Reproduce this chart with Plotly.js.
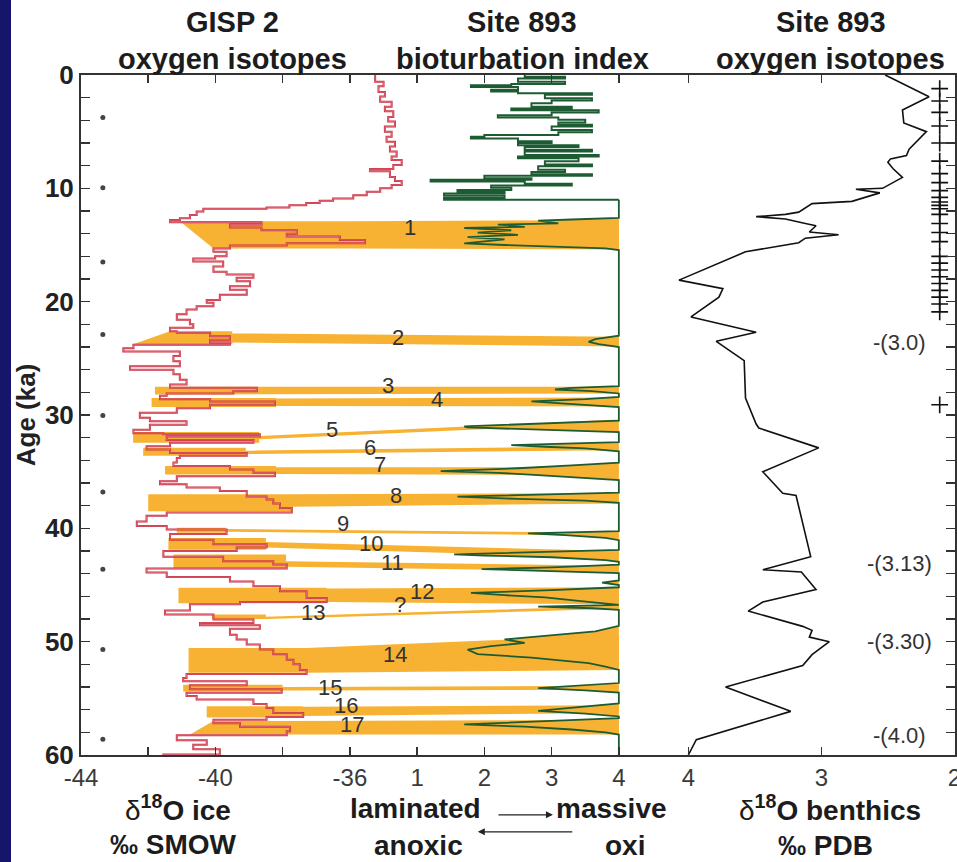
<!DOCTYPE html>
<html>
<head>
<meta charset="utf-8">
<script src="https://cdn.plot.ly/plotly-3.0.1.min.js"></script>
<style>
  html, body { margin: 0; padding: 0; background: #fff; }
  #wrap { width: 957px; height: 862px; display: flex; overflow: hidden; }
  #edge { width: 11px; height: 862px; background: #17156b; flex: none; }
  #chart { width: 946px; height: 862px; flex: none; }
</style>
</head>
<body>
<div id="wrap"><div id="edge"></div><div id="chart"></div></div>
<script>
// ---- GISP 2 ice-core oxygen isotopes (per mil SMOW) vs age (ka) ----
const gispAge = [0.0, 0.6, 1.0, 1.5, 1.9, 2.35, 2.8, 3.2, 3.7, 4.1, 4.55, 5.0, 5.45, 5.9, 6.3, 6.75, 7.2, 7.5, 7.95, 8.3,
  8.5, 9.0, 9.35, 9.7, 10.0, 10.3, 10.6, 10.9, 11.1, 11.3, 11.5, 11.7, 11.8, 12.05, 12.35, 12.65, 12.8, 13.0, 13.2, 13.45,
  13.7, 14.0, 14.25, 14.55, 14.85, 15.05, 15.3, 15.6, 16.0, 16.2, 16.45, 16.9, 17.35, 17.6, 17.9, 18.2, 18.65, 18.95, 19.4, 19.85,
  20.1, 20.4, 20.7, 21.1, 21.6, 22.0, 22.3, 22.6, 22.75, 23.05, 23.35, 23.6, 23.8, 24.1, 24.4, 24.8, 25.25, 25.7, 26.0, 26.4,
  26.9, 27.3, 27.6, 27.9, 28.1, 28.3, 28.6, 28.8, 29.1, 29.4, 29.8, 30.25, 30.55, 30.85, 31.3, 31.6, 31.7, 31.9, 32.2, 32.45,
  32.75, 33.05, 33.35, 33.6, 33.8, 34.2, 34.5, 34.8, 35.1, 35.4, 35.85, 36.1, 36.4, 36.7, 37.2, 37.45, 37.8, 38.2, 38.6, 38.9,
  39.4, 39.8, 40.1, 40.5, 41.0, 41.4, 41.7, 42.0, 42.5, 42.9, 43.2, 43.55, 43.9, 44.3, 44.7, 45.1, 45.55, 46.15, 46.5, 46.7,
  47.25, 47.6, 48.05, 48.35, 48.55, 48.85, 49.4, 49.8, 50.25, 50.7, 51.1, 51.6, 52.0, 52.5, 52.85, 53.2, 53.5, 53.85, 54.2, 54.5,
  54.8, 55.1, 55.5, 55.85, 56.3, 56.65, 56.9, 57.2, 57.5, 57.9, 58.25, 58.7, 59.1, 59.5, 59.95, 60.0];
const gispD18O = [-35.25, -35.0, -35.15, -34.96, -35.1, -34.76, -34.96, -34.71, -34.86, -34.66, -34.96, -34.76, -34.91, -34.66, -34.81, -34.61, -34.76, -34.46, -34.71, -35.4,
  -34.81, -34.66, -34.46, -34.76, -35.1, -35.5, -35.9, -36.5, -36.9, -37.3, -37.8, -38.48, -40.36, -40.56, -40.76, -41.06, -41.35, -38.63, -39.57, -38.63,
  -37.58, -37.88, -36.3, -35.55, -37.88, -39.57, -40.06, -39.67, -40.01, -40.66, -39.77, -40.06, -39.67, -38.87, -39.37, -38.97, -39.57, -39.07, -39.87, -40.26,
  -40.06, -40.56, -40.86, -41.15, -40.76, -40.66, -41.35, -41.15, -40.16, -39.57, -40.16, -39.57, -42.44, -42.74, -41.06, -41.25, -41.06, -42.54, -41.25, -41.06,
  -40.86, -41.35, -38.77, -39.47, -41.45, -41.65, -40.16, -38.23, -40.16, -41.15, -42.25, -41.95, -40.86, -41.95, -42.44, -41.55, -38.68, -41.45, -38.87, -41.35,
  -42.05, -41.35, -39.07, -41.06, -41.15, -41.25, -39.57, -38.87, -38.23, -41.15, -41.65, -40.86, -39.87, -39.07, -38.48, -38.28, -38.08, -37.73, -41.45, -42.05,
  -42.34, -41.45, -39.67, -41.35, -40.06, -38.48, -39.37, -41.55, -39.77, -38.28, -37.88, -42.05, -41.45, -39.57, -38.87, -38.08, -37.29, -36.69, -39.27, -40.76,
  -41.5, -40.06, -38.87, -40.46, -38.68, -39.57, -39.37, -39.07, -38.68, -38.28, -37.88, -37.68, -37.49, -37.29, -40.86, -40.96, -39.07, -40.76, -38.03, -40.86,
  -40.56, -38.87, -38.48, -38.28, -37.39, -38.48, -40.06, -39.27, -37.78, -37.88, -41.15, -40.26, -40.66, -39.87, -41.55, -41.55];

// Age-control dots beside the ice-core record
const controlAges = [3.75, 9.95, 16.5, 22.9, 30.05, 36.8, 43.6, 50.7, 58.6];
const controlD18O = -43.35;

// ---- Site 893 bioturbation index (1 = laminated/anoxic, 4 = massive/oxic) ----
// Holocene section, plotted as steps
const bioTopAge = [0.0, 0.15, 0.3, 0.6, 0.8, 0.9, 1.05, 1.3, 1.45, 1.6, 1.75, 2.05, 2.25, 2.5, 2.8, 2.95, 3.1, 3.3, 3.55, 3.75,
  3.95, 4.2, 4.4, 4.55, 4.85, 5.05, 5.3, 5.45, 5.6, 5.85, 6.0, 6.2, 6.35, 6.6, 6.75, 7.05, 7.2, 7.35, 7.6, 7.9,
  8.05, 8.35, 8.55, 8.75, 8.9, 9.1, 9.25, 9.4, 9.6, 9.75, 9.95, 10.15, 10.3, 10.45, 10.65, 10.85, 11.0];
const bioTopIndex = [2.6, 3.2, 2.5, 3.2, 2.4, 1.8, 2.5, 2.1, 2.5, 3.6, 2.9, 3.6, 3.0, 2.7, 3.3, 2.4, 3.7, 3.0, 2.2, 3.1,
  3.5, 3.1, 3.6, 3.0, 3.6, 3.1, 2.0, 1.8, 2.5, 3.0, 2.5, 3.4, 2.6, 3.6, 2.6, 3.7, 2.5, 3.4, 2.9, 3.6,
  2.8, 3.2, 2.7, 3.6, 2.0, 2.7, 1.2, 2.6, 3.3, 2.1, 2.4, 1.6, 2.3, 1.4, 2.3, 1.4, 4.0];
// Glacial section: massive (4) with laminated excursions
const bioAge = [11.0, 12.6, 12.75, 12.85, 13.1, 13.2, 13.4, 13.5, 13.7, 13.9, 14.1, 14.3, 14.5, 14.7, 14.85, 15.0, 15.15, 15.3, 15.45,
  23.0, 23.3, 23.55, 23.75, 24.0,
  27.45, 27.6, 27.75, 27.9, 28.1,
  28.4, 28.6, 28.8, 29.0, 29.3,
  30.5, 31.0, 31.1, 31.4, 31.5,
  32.4, 32.65, 32.8, 32.95, 33.2,
  34.2, 34.45, 34.7, 34.95, 35.1, 35.3, 35.55, 35.75,
  36.85, 37.05, 37.2, 37.4, 37.55, 37.75,
  40.25, 40.45, 40.6, 40.85, 41.05,
  41.9, 42.15, 42.3, 42.4, 42.55, 42.8, 42.95,
  43.2, 43.45, 43.6, 43.75, 43.95,
  44.6, 44.8, 45.0, 45.2, 45.45, 45.7, 45.9, 46.1, 46.4, 46.7,
  46.75, 46.9, 47.05, 47.2,
  48.6, 49.1, 49.5, 49.8, 50.1, 50.4, 50.7, 51.1, 51.4, 51.9, 52.2, 52.5,
  53.65, 53.9, 54.1, 54.3, 54.5,
  55.45, 55.8, 56.1, 56.35, 56.6,
  56.75, 57.0, 57.3, 57.5, 57.75, 58.0, 58.2,
  60.0];
const bioIndex = [4, 4, 3.3, 2.8, 3.1, 2.2, 2.6, 1.7, 2.4, 1.9, 2.5, 1.75, 2.3, 1.9, 1.7, 2.3, 3.0, 3.8, 4,
  4, 3.65, 3.55, 3.7, 4,
  4, 3.3, 3.05, 3.6, 4,
  4, 3.5, 2.7, 3.2, 4,
  4, 1.7, 1.75, 3.5, 4,
  4, 2.4, 2.9, 3.5, 4,
  4, 3.3, 2.5, 1.35, 2.2, 2.8, 3.4, 4,
  4, 2.6, 1.6, 2.5, 3.5, 4,
  4, 2.65, 3.2, 3.8, 4,
  4, 2.6, 1.55, 2.0, 3.0, 3.8, 4,
  4, 3.0, 1.96, 3.0, 4,
  4, 3.75, 4, 4, 3.0, 1.8, 2.3, 2.9, 3.4, 4,
  4, 2.8, 3.6, 4,
  4, 3.65, 2.9, 2.3, 2.6, 2.1, 1.75, 1.9, 2.7, 3.55, 3.8, 4,
  4, 3.3, 2.8, 3.5, 4,
  4, 3.4, 2.8, 3.5, 4,
  4, 3.0, 1.7, 2.6, 3.3, 3.8, 4,
  4];

// ---- Site 893 benthic foraminifera oxygen isotopes (per mil PDB) ----
const benthicAge = [0, 1.92, 3.08, 4.23, 5.0, 6.54, 7.1, 7.4, 7.7, 8.27, 9.04, 10.0, 10.08, 10.4, 11.15, 11.35, 12.1, 12.3, 12.5, 12.7,
  13.1, 13.3, 13.85, 14.1, 14.4, 14.8, 15.6, 18.1, 18.85, 19.6, 21.35, 22.7, 23.5, 25.2, 28.5, 30.8, 31.15, 32.9, 35.0, 36.9,
  37.1, 42.5, 43.65, 43.85, 45.4, 46.5, 47.3, 48.65, 49.0, 49.6, 50.0, 51.15, 52.1, 54.0, 56.15, 58.65, 60];
const benthicD18O = [2.52, 2.19, 2.39, 2.38, 2.21, 2.34, 2.36, 2.48, 2.50, 2.46, 2.39, 2.54, 2.74, 2.56, 2.77, 3.07, 3.17, 3.27, 3.49, 3.27,
  3.12, 3.04, 3.09, 2.87, 3.12, 3.17, 3.57, 4.07, 3.74, 3.77, 3.98, 3.49, 3.79, 3.58, 3.57, 3.49, 3.47, 3.02, 3.44, 3.29,
  3.19, 3.08, 3.44, 3.15, 3.04, 3.44, 3.55, 3.14, 3.07, 3.09, 2.94, 3.07, 3.14, 3.72, 3.23, 3.94, 4.0];
// Radiocarbon-dated levels and calendar offsets
const datedAges = [1.2, 2.3, 3.3, 4.5, 6.0, 7.6, 8.7, 9.5, 10.2, 10.8, 11.2, 11.5, 11.8, 12.3, 13.1, 13.9, 14.7,
  16.0, 16.6, 17.2, 17.8, 18.4, 19.0, 19.6, 20.2, 20.9, 29.1];
const datedD18O = 2.11;
const offsetAges = [23.6, 43.1, 50.0, 58.3];
const offsetText = ['-(3.0)', '-(3.13)', '-(3.30)', '-(4.0)'];
const offsetD18O = 2.41;

// ---- Interstadial correlations 1-17 ----
const bandNames = ['1', '2', '3', '4', '5', '6', '7', '8', '9', '10', '11', '12', '13', '14', '15', '16', '17'];
const bandLeftTopD18O = [-41.06, -41.35, -41.8, -41.9, -42.45, -42.15, -41.5, -42.0, -41.15, -41.4, -41.25, -41.1, -40.1, -40.8, -40.96, -40.26, -40.06];
const bandLeftBotD18O = [-40.06, -42.45, -41.8, -41.9, -42.45, -42.15, -41.5, -42.0, -41.15, -41.4, -41.25, -41.1, -40.1, -40.8, -40.96, -40.26, -40.76];
const bandIceTop = [12.9, 22.6, 27.5, 28.5, 31.5, 32.9, 34.5, 37.0, 39.95, 40.85, 42.3, 45.25, 47.6, 50.55, 53.8, 55.7, 57.0];
const bandIceBot = [15.3, 23.75, 28.2, 29.3, 32.45, 33.6, 35.25, 38.5, 40.4, 41.9, 43.5, 46.6, 48.0, 52.75, 54.4, 56.7, 58.2];
const bandIceEndD18O = [-36.0, -39.5, -38.8, -38.2, -38.7, -39.1, -38.2, -37.7, -39.7, -38.5, -37.9, -36.7, -38.5, -37.3, -38.0, -37.4, -37.8];
const bandLinkTop = [12.9, 22.8, 27.55, 28.55, 31.85, 33.15, 34.6, 37.0, 40.05, 41.2, 42.9, 45.3, 47.8, 50.55, 54.0, 55.75, 57.0];
const bandLinkBot = [15.3, 23.6, 28.15, 29.2, 32.15, 33.45, 35.2, 38.1, 40.3, 41.7, 43.4, 46.5, 48.0, 52.75, 54.3, 56.55, 58.2];
const bandSedTop = [12.8, 23.1, 27.5, 28.45, 30.4, 32.75, 34.6, 36.9, 40.4, 42.0, 43.3, 45.2, 46.85, 49.4, 53.9, 55.6, 56.9];
const bandSedBot = [15.4, 23.95, 28.1, 29.25, 30.7, 33.1, 35.3, 37.8, 40.65, 42.6, 43.8, 46.7, 47.1, 52.5, 54.25, 56.3, 58.2];
const bandLabelText = ['1', '2', '3', '4', '5', '6', '7', '8', '9', '10', '11', '12', '?', '13', '14', '15', '16', '17'];
const bandLabelD18O = [-34.21, -34.57, -34.87, -33.41, -36.53, -35.40, -35.10, -34.63, -36.20, -35.37, -34.72, -33.86, -34.50, -37.10, -34.66, -36.59, -36.12, -35.94];
const bandLabelAge = [13.45, 23.17, 27.4, 28.64, 31.3, 32.9, 34.4, 37.1, 39.6, 41.3, 43.0, 45.6, 46.75, 47.45, 51.1, 54.06, 55.6, 57.3];

// ---- axis scales ----
const gispRange = [-44, -18];
const bioRange = [-4, 9];
const benthicRange = [8.566, 1.995];
const bioToGisp = b => gispRange[0] + (b - bioRange[0]) * (gispRange[1] - gispRange[0]) / (bioRange[1] - bioRange[0]);
const massive = 4;

const ORANGE = '#f8b233';
const GREEN = '#1d5c33';
const RED = '#c92c3e';
const FONT = 'Liberation Sans, Arial, sans-serif';

// correlation bands: ice-core block joined to the sediment excursion
const bandX = [], bandY = [];
const rightEdge = bioToGisp(massive);
for (let i = 0; i < bandNames.length; i++) {
  bandX.push(bandLeftTopD18O[i], bandIceEndD18O[i], bandIceEndD18O[i], rightEdge, rightEdge, bandIceEndD18O[i], bandIceEndD18O[i], bandLeftBotD18O[i], null);
  bandY.push(bandIceTop[i], bandIceTop[i], bandLinkTop[i], bandSedTop[i], bandSedBot[i], bandLinkBot[i], bandIceBot[i], bandIceBot[i], null);
}

const traces = [
  { x: bandX, y: bandY, xaxis: 'x', yaxis: 'y', type: 'scatter', mode: 'lines', fill: 'toself',
    fillcolor: ORANGE, line: { width: 0, color: ORANGE }, hoverinfo: 'skip' },
  // laminated excursions filled against the massive baseline
  { x: bioIndex, y: bioAge, xaxis: 'x2', yaxis: 'y', type: 'scatter', mode: 'lines', fill: 'toself',
    fillcolor: ORANGE, line: { width: 1.8, color: GREEN }, hoverinfo: 'skip' },
  { x: bioTopIndex, y: bioTopAge, xaxis: 'x2', yaxis: 'y', type: 'scatter', mode: 'lines',
    line: { width: 2, color: GREEN, shape: 'vh' }, hoverinfo: 'skip' },
  { x: gispD18O, y: gispAge, xaxis: 'x', yaxis: 'y', type: 'scatter', mode: 'lines',
    line: { width: 2.0, color: RED, shape: 'vh' }, hoverinfo: 'skip' },
  { x: gispD18O, y: gispAge, xaxis: 'x', yaxis: 'y', type: 'scatter', mode: 'lines',
    line: { width: 0.6, color: '#ec8d99', shape: 'vh' }, hoverinfo: 'skip' },
  { x: controlAges.map(() => controlD18O), y: controlAges, xaxis: 'x', yaxis: 'y', type: 'scatter', mode: 'markers',
    marker: { size: 5, color: '#444' }, hoverinfo: 'skip' },
  { x: benthicD18O, y: benthicAge, xaxis: 'x3', yaxis: 'y', type: 'scatter', mode: 'lines',
    line: { width: 1.6, color: '#111' }, hoverinfo: 'skip' },
  { x: datedAges.map(() => datedD18O), y: datedAges, xaxis: 'x3', yaxis: 'y', type: 'scatter', mode: 'markers',
    marker: { symbol: 'cross-thin', size: 12, line: { width: 1.6, color: '#111' } }, hoverinfo: 'skip' }
];

const tickFont = { family: FONT, size: 24, color: '#3a3a3a' };
const xBase = {
  ticks: 'inside', ticklen: 8, tickwidth: 1.5, tickcolor: '#333',
  showline: true, linecolor: '#333', linewidth: 2, mirror: 'ticks',
  showgrid: false, zeroline: false, tickfont: tickFont, fixedrange: true,
  ticklabeloverflow: 'allow'
};

const ageTicks = [];
for (let a = 0; a <= 60; a += 2) ageTicks.push(a);
const ageTickText = ageTicks.map(a => (a % 10 === 0 ? String(a) : ''));

const titleFont = { family: FONT, size: 29, color: '#1c1c1c', weight: 700 };
const lowerFont = { family: FONT, size: 28, color: '#1c1c1c', weight: 700 };
const headers = [
  ['GISP 2', 0.173, 1.078, titleFont], ['oxygen isotopes', 0.173, 1.0235, titleFont],
  ['Site 893', 0.505, 1.078, titleFont], ['bioturbation index', 0.505, 1.0235, titleFont],
  ['Site 893', 0.858, 1.078, titleFont], ['oxygen isotopes', 0.858, 1.0235, titleFont],
  ['<span style="font-weight:normal">δ</span><sup>18</sup>O ice', 0.111, -0.078, lowerFont], ['‰ SMOW', 0.106, -0.131, lowerFont],
  ['laminated', 0.383, -0.078, lowerFont], ['massive', 0.607, -0.078, lowerFont],
  ['anoxic', 0.386, -0.133, lowerFont], ['oxi', 0.622, -0.133, lowerFont],
  ['<span style="font-weight:normal">δ</span><sup>18</sup>O benthics', 0.857, -0.078, lowerFont], ['‰ PDB', 0.852, -0.133, lowerFont]
];

const annotations = [];
headers.forEach(h => annotations.push({
  text: h[0], x: h[1], y: h[2], xref: 'paper', yref: 'paper', showarrow: false,
  xanchor: 'center', yanchor: 'middle', font: h[3]
}));
bandLabelText.forEach((t, i) => annotations.push({
  text: t, x: bandLabelD18O[i], y: bandLabelAge[i], xref: 'x', yref: 'y', showarrow: false,
  xanchor: 'center', yanchor: 'middle', font: { family: FONT, size: 22, color: '#333' }
}));
offsetText.forEach((t, i) => annotations.push({
  text: t, x: offsetD18O, y: offsetAges[i], xref: 'x3', yref: 'y', showarrow: false,
  xanchor: 'center', yanchor: 'middle', font: { family: FONT, size: 22, color: '#333' }
}));
// laminated <-> massive arrows
annotations.push({ text: '', x: 0.540, y: -0.088, xref: 'paper', yref: 'paper', showarrow: true,
  ax: -56, ay: 0, arrowhead: 2, arrowsize: 1, arrowwidth: 1.4, arrowcolor: '#222' });
annotations.push({ text: '', x: 0.454, y: -0.113, xref: 'paper', yref: 'paper', showarrow: true,
  ax: 96, ay: 0, arrowhead: 2, arrowsize: 1, arrowwidth: 1.4, arrowcolor: '#222' });

const layout = {
  width: 946, height: 862,
  margin: { l: 70, r: 2, t: 75, b: 107 },
  paper_bgcolor: '#ffffff', plot_bgcolor: '#ffffff',
  showlegend: false,
  font: { family: FONT, color: '#222' },
  xaxis: Object.assign({}, xBase, { range: gispRange, tickvals: [-44, -42, -40, -38, -36], ticktext: ['-44', '', '-40', '', '-36'] }),
  xaxis2: Object.assign({}, xBase, { overlaying: 'x', range: bioRange, tickvals: [1, 2, 3, 4], ticktext: ['1', '2', '3', '4'] }),
  xaxis3: Object.assign({}, xBase, { overlaying: 'x', range: benthicRange, tickvals: [4, 3, 2], ticktext: ['4', '3', '2'] }),
  yaxis: {
    range: [60, 0], tickvals: ageTicks, ticktext: ageTickText,
    ticks: 'inside', ticklen: 9, tickwidth: 1.5, tickcolor: '#333',
    showline: true, linecolor: '#333', linewidth: 2, mirror: 'ticks',
    showgrid: false, zeroline: false, fixedrange: true,
    tickfont: { family: FONT, size: 26, color: '#222', weight: 700 },
    title: { text: 'Age (ka)', standoff: 6, font: { family: FONT, size: 26, color: '#222', weight: 700 } }
  },
  annotations: annotations
};

Plotly.newPlot('chart', traces, layout, { displayModeBar: false, staticPlot: true });
</script>
</body>
</html>
